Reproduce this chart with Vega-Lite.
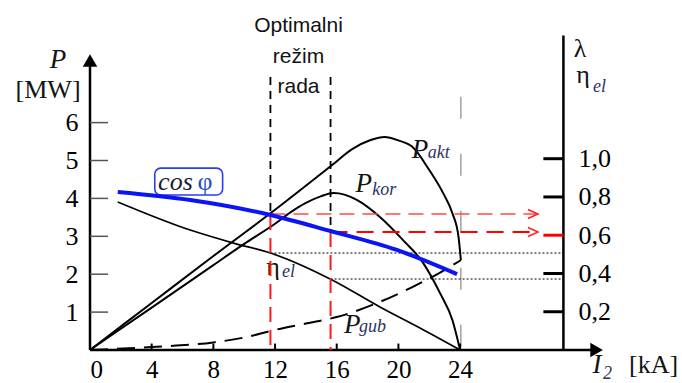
{
  "$schema": "https://vega.github.io/schema/vega-lite/v6.json",
  "width": 592,
  "height": 350,
  "autosize": {"type": "none"},
  "padding": {"left": 90, "top": 0, "right": 0, "bottom": 33},
  "background": "white",
  "config": {
    "view": {"stroke": null},
    "axis": {"grid": false, "labelFont": "Liberation Serif", "labelFontSize": 26, "labelColor": "#000", "domain": false},
    "style": {"guide-label": {"font": "Liberation Serif", "fontSize": 26, "fill": "#000"}}
  },
  "datasets": {
    "pc": [
      {"s": "akt", "I": 0, "P": 0}, {"s": "akt", "I": 4, "P": 1.24}, {"s": "akt", "I": 8, "P": 2.48}, {"s": "akt", "I": 12, "P": 3.7}, {"s": "akt", "I": 15.7, "P": 4.88}, {"s": "akt", "I": 17, "P": 5.3}, {"s": "akt", "I": 18.2, "P": 5.54}, {"s": "akt", "I": 19.1, "P": 5.62}, {"s": "akt", "I": 20, "P": 5.53}, {"s": "akt", "I": 20.9, "P": 5.36}, {"s": "akt", "I": 22, "P": 4.75}, {"s": "akt", "I": 22.9, "P": 4.14}, {"s": "akt", "I": 23.5, "P": 3.61}, {"s": "akt", "I": 23.9, "P": 2.98}, {"s": "akt", "I": 24.05, "P": 2.37},
      {"s": "kor", "I": 0, "P": 0}, {"s": "kor", "I": 4, "P": 1.12}, {"s": "kor", "I": 8, "P": 2.24}, {"s": "kor", "I": 10, "P": 2.8}, {"s": "kor", "I": 12, "P": 3.33}, {"s": "kor", "I": 13, "P": 3.63}, {"s": "kor", "I": 14, "P": 3.88}, {"s": "kor", "I": 15, "P": 4.06}, {"s": "kor", "I": 15.8, "P": 4.14}, {"s": "kor", "I": 16.5, "P": 4.1}, {"s": "kor", "I": 17.3, "P": 3.96}, {"s": "kor", "I": 18.8, "P": 3.51}, {"s": "kor", "I": 20.3, "P": 2.9}, {"s": "kor", "I": 21.6, "P": 2.3}, {"s": "kor", "I": 22.7, "P": 1.5}, {"s": "kor", "I": 23.5, "P": 0.79}, {"s": "kor", "I": 24, "P": 0},
      {"s": "gub", "I": 0, "P": 0}, {"s": "gub", "I": 4, "P": 0.08}, {"s": "gub", "I": 8, "P": 0.2}, {"s": "gub", "I": 10, "P": 0.33}, {"s": "gub", "I": 12, "P": 0.53}, {"s": "gub", "I": 14, "P": 0.7}, {"s": "gub", "I": 16, "P": 0.87}, {"s": "gub", "I": 18.8, "P": 1.27}, {"s": "gub", "I": 20.9, "P": 1.66}, {"s": "gub", "I": 22.2, "P": 1.93}, {"s": "gub", "I": 24.05, "P": 2.37}
    ],
    "lc": [
      {"s": "cos", "I": 1.8, "L": 0.826}, {"s": "cos", "I": 6.5, "L": 0.784}, {"s": "cos", "I": 11.7, "L": 0.706}, {"s": "cos", "I": 15.6, "L": 0.622}, {"s": "cos", "I": 19.9, "L": 0.523}, {"s": "cos", "I": 23.8, "L": 0.397},
      {"s": "eta", "I": 1.8, "L": 0.774}, {"s": "eta", "I": 6.5, "L": 0.627}, {"s": "eta", "I": 9.3, "L": 0.559}, {"s": "eta", "I": 11.7, "L": 0.507}, {"s": "eta", "I": 15.7, "L": 0.366}, {"s": "eta", "I": 18.8, "L": 0.225}, {"s": "eta", "I": 21.4, "L": 0.115}, {"s": "eta", "I": 24, "L": 0}
    ],
    "lr": [
      {"k": "blackdash", "x1": 11.7, "x2": 11.7, "y1": 1.427, "y2": 0.706},
      {"k": "blackdash", "x1": 15.6, "x2": 15.6, "y1": 1.427, "y2": 0.617},
      {"k": "redv", "x1": 11.7, "x2": 11.7, "y1": 0.706, "y2": 0},
      {"k": "redv", "x1": 15.6, "x2": 15.6, "y1": 0.617, "y2": 0},
      {"k": "red1", "x1": 11.7, "x2": 29.05, "y1": 0.711, "y2": 0.711},
      {"k": "red2", "x1": 15.6, "x2": 29.05, "y1": 0.617, "y2": 0.617},
      {"k": "dot", "x1": 11.7, "x2": 30.7, "y1": 0.507, "y2": 0.507},
      {"k": "dot", "x1": 15.6, "x2": 30.7, "y1": 0.371, "y2": 0.371}
    ],
    "pr": [
      {"k": "axis", "x1": 0, "x2": 32.6, "y1": 0, "y2": 0},
      {"k": "axis", "x1": 0, "x2": 0, "y1": 0, "y2": 7.5},
      {"k": "axis", "x1": 30.7, "x2": 30.7, "y1": 0, "y2": 8.3},
      {"k": "gray", "x1": 24.05, "x2": 24.05, "y1": 6.68, "y2": 0}
    ],
    "ptick": [{"v": 1}, {"v": 2}, {"v": 3}, {"v": 4}, {"v": 5}, {"v": 6}],
    "xtick": [{"v": 4}, {"v": 8}, {"v": 12}, {"v": 16}, {"v": 20}, {"v": 24}],
    "ltick": [{"v": 0.2}, {"v": 0.4}, {"v": 0.6}, {"v": 0.8}, {"v": 1.0}],
    "arr": [
      {"k": "up", "x": 0, "y": 7.64},
      {"k": "right", "x": 32.85, "y": 0}
    ],
    "chev": [
      {"x": 29.05, "L": 0.711},
      {"x": 29.05, "L": 0.617}
    ],
    "box": [{"x1": 4.2, "x2": 8.6, "y1": 4.09, "y2": 4.8}],
    "txt": [
      {"g": "A", "t": "P", "x": 21.4, "y": 5.07},
      {"g": "A", "t": "P", "x": 17.75, "y": 4.17},
      {"g": "A", "t": "P", "x": 17.0, "y": 0.45},
      {"g": "A", "t": "P", "x": -2.08, "y": 7.45},
      {"g": "A", "t": "I", "x": 32.88, "y": -0.61},
      {"g": "B", "t": "akt", "x": 21.9, "y": 5.07},
      {"g": "B", "t": "kor", "x": 18.3, "y": 4.09},
      {"g": "B", "t": "gub", "x": 17.45, "y": 0.47},
      {"g": "B", "t": "el", "x": 12.45, "y": 1.93},
      {"g": "B", "t": "el", "x": 32.62, "y": 6.81},
      {"g": "B", "t": "2", "x": 33.27, "y": -0.76},
      {"g": "C", "t": "[MW]", "x": -2.72, "y": 6.66},
      {"g": "C", "t": "[kA]", "x": 36.55, "y": -0.61},
      {"g": "C", "t": "λ", "x": 31.78, "y": 7.74},
      {"g": "C", "t": "η", "x": 31.97, "y": 7.04},
      {"g": "C", "t": "η", "x": 11.87, "y": 1.98},
      {"g": "F", "t": "φ", "x": 7.46, "y": 4.22},
      {"g": "D", "t": "cos", "x": 5.54, "y": 4.22},
      {"g": "E", "t": "Optimalni", "x": 13.52, "y": 8.39},
      {"g": "E", "t": "režim", "x": 13.52, "y": 7.57},
      {"g": "E", "t": "rada", "x": 13.52, "y": 6.78}
    ]
  },
  "layer": [
    {
      "layer": [
        {
          "data": {"name": "pr"},
          "transform": [{"filter": "datum.k == 'gray'"}],
          "mark": {"type": "rule", "color": "#8a8a8a", "strokeWidth": 1.2, "strokeDash": [22, 35]},
          "encoding": {
            "x": {"field": "x1", "type": "quantitative", "scale": {"domain": [0, 38.39], "nice": false, "zero": false}, "axis": {"orient": "bottom", "values": [0, 4, 8, 12, 16, 20, 24], "format": "d", "ticks": false, "tickSize": 0, "labelPadding": 27, "labelBaseline": "alphabetic", "labelFont": "Liberation Serif", "labelFontSize": 25, "labelColor": "#000", "title": null, "domain": false, "grid": false}},
            "x2": {"field": "x2"},
            "y": {"field": "y1", "type": "quantitative", "scale": {"domain": [0, 9.235], "nice": false}, "axis": {"orient": "left", "values": [1, 2, 3, 4, 5, 6], "format": "d", "ticks": false, "tickSize": 0, "labelPadding": 12, "labelFont": "Liberation Serif", "labelFontSize": 26, "labelColor": "#000", "title": null, "domain": false, "grid": false}},
            "y2": {"field": "y2"}
          }
        },
        {
          "data": {"name": "pc"},
          "transform": [{"filter": "datum.s == 'akt'"}],
          "mark": {"type": "line", "color": "#000", "strokeWidth": 2, "interpolate": "monotone"},
          "encoding": {
            "x": {"field": "I", "type": "quantitative", "scale": {"domain": [0, 38.39], "nice": false, "zero": false}, "axis": {"orient": "bottom", "values": [0, 4, 8, 12, 16, 20, 24], "format": "d", "ticks": false, "tickSize": 0, "labelPadding": 27, "labelBaseline": "alphabetic", "labelFont": "Liberation Serif", "labelFontSize": 25, "labelColor": "#000", "title": null, "domain": false, "grid": false}},
            "y": {"field": "P", "type": "quantitative", "scale": {"domain": [0, 9.235], "nice": false}, "axis": {"orient": "left", "values": [1, 2, 3, 4, 5, 6], "format": "d", "ticks": false, "tickSize": 0, "labelPadding": 12, "labelFont": "Liberation Serif", "labelFontSize": 26, "labelColor": "#000", "title": null, "domain": false, "grid": false}}
          }
        },
        {
          "data": {"name": "pc"},
          "transform": [{"filter": "datum.s == 'kor'"}],
          "mark": {"type": "line", "color": "#000", "strokeWidth": 2, "interpolate": "monotone"},
          "encoding": {
            "x": {"field": "I", "type": "quantitative", "scale": {"domain": [0, 38.39], "nice": false, "zero": false}, "axis": {"orient": "bottom", "values": [0, 4, 8, 12, 16, 20, 24], "format": "d", "ticks": false, "tickSize": 0, "labelPadding": 27, "labelBaseline": "alphabetic", "labelFont": "Liberation Serif", "labelFontSize": 25, "labelColor": "#000", "title": null, "domain": false, "grid": false}},
            "y": {"field": "P", "type": "quantitative", "scale": {"domain": [0, 9.235], "nice": false}, "axis": {"orient": "left", "values": [1, 2, 3, 4, 5, 6], "format": "d", "ticks": false, "tickSize": 0, "labelPadding": 12, "labelFont": "Liberation Serif", "labelFontSize": 26, "labelColor": "#000", "title": null, "domain": false, "grid": false}}
          }
        },
        {
          "data": {"name": "pc"},
          "transform": [{"filter": "datum.s == 'gub'"}],
          "mark": {"type": "line", "color": "#000", "strokeWidth": 2, "strokeDash": [18, 9], "interpolate": "monotone"},
          "encoding": {
            "x": {"field": "I", "type": "quantitative", "scale": {"domain": [0, 38.39], "nice": false, "zero": false}, "axis": {"orient": "bottom", "values": [0, 4, 8, 12, 16, 20, 24], "format": "d", "ticks": false, "tickSize": 0, "labelPadding": 27, "labelBaseline": "alphabetic", "labelFont": "Liberation Serif", "labelFontSize": 25, "labelColor": "#000", "title": null, "domain": false, "grid": false}},
            "y": {"field": "P", "type": "quantitative", "scale": {"domain": [0, 9.235], "nice": false}, "axis": {"orient": "left", "values": [1, 2, 3, 4, 5, 6], "format": "d", "ticks": false, "tickSize": 0, "labelPadding": 12, "labelFont": "Liberation Serif", "labelFontSize": 26, "labelColor": "#000", "title": null, "domain": false, "grid": false}}
          }
        },
        {
          "data": {"name": "pr"},
          "transform": [{"filter": "datum.k == 'axis'"}],
          "mark": {"type": "rule", "color": "#000", "strokeWidth": 2.5},
          "encoding": {
            "x": {"field": "x1", "type": "quantitative", "scale": {"domain": [0, 38.39], "nice": false, "zero": false}, "axis": {"orient": "bottom", "values": [0, 4, 8, 12, 16, 20, 24], "format": "d", "ticks": false, "tickSize": 0, "labelPadding": 27, "labelBaseline": "alphabetic", "labelFont": "Liberation Serif", "labelFontSize": 25, "labelColor": "#000", "title": null, "domain": false, "grid": false}},
            "x2": {"field": "x2"},
            "y": {"field": "y1", "type": "quantitative", "scale": {"domain": [0, 9.235], "nice": false}, "axis": {"orient": "left", "values": [1, 2, 3, 4, 5, 6], "format": "d", "ticks": false, "tickSize": 0, "labelPadding": 12, "labelFont": "Liberation Serif", "labelFontSize": 26, "labelColor": "#000", "title": null, "domain": false, "grid": false}},
            "y2": {"field": "y2"}
          }
        },
        {
          "data": {"name": "ptick"},
          "mark": {"type": "rule", "color": "#555", "strokeWidth": 1.5},
          "encoding": {
            "x": {"datum": 0, "type": "quantitative", "scale": {"domain": [0, 38.39], "nice": false, "zero": false}, "axis": {"orient": "bottom", "values": [0, 4, 8, 12, 16, 20, 24], "format": "d", "ticks": false, "tickSize": 0, "labelPadding": 27, "labelBaseline": "alphabetic", "labelFont": "Liberation Serif", "labelFontSize": 25, "labelColor": "#000", "title": null, "domain": false, "grid": false}},
            "x2": {"datum": 1.17},
            "y": {"field": "v", "type": "quantitative", "scale": {"domain": [0, 9.235], "nice": false}, "axis": {"orient": "left", "values": [1, 2, 3, 4, 5, 6], "format": "d", "ticks": false, "tickSize": 0, "labelPadding": 12, "labelFont": "Liberation Serif", "labelFontSize": 26, "labelColor": "#000", "title": null, "domain": false, "grid": false}}
          }
        },
        {
          "data": {"name": "xtick"},
          "mark": {"type": "rule", "color": "#000", "strokeWidth": 2},
          "encoding": {
            "x": {"field": "v", "type": "quantitative", "scale": {"domain": [0, 38.39], "nice": false, "zero": false}, "axis": {"orient": "bottom", "values": [0, 4, 8, 12, 16, 20, 24], "format": "d", "ticks": false, "tickSize": 0, "labelPadding": 27, "labelBaseline": "alphabetic", "labelFont": "Liberation Serif", "labelFontSize": 25, "labelColor": "#000", "title": null, "domain": false, "grid": false}},
            "y": {"datum": 0, "type": "quantitative", "scale": {"domain": [0, 9.235], "nice": false}, "axis": {"orient": "left", "values": [1, 2, 3, 4, 5, 6], "format": "d", "ticks": false, "tickSize": 0, "labelPadding": 12, "labelFont": "Liberation Serif", "labelFontSize": 26, "labelColor": "#000", "title": null, "domain": false, "grid": false}},
            "y2": {"datum": 0.17}
          }
        },
        {
          "data": {"name": "arr"},
          "mark": {"type": "point", "filled": true, "color": "#000", "size": 210, "opacity": 1},
          "encoding": {
            "x": {"field": "x", "type": "quantitative", "scale": {"domain": [0, 38.39], "nice": false, "zero": false}, "axis": {"orient": "bottom", "values": [0, 4, 8, 12, 16, 20, 24], "format": "d", "ticks": false, "tickSize": 0, "labelPadding": 27, "labelBaseline": "alphabetic", "labelFont": "Liberation Serif", "labelFontSize": 25, "labelColor": "#000", "title": null, "domain": false, "grid": false}},
            "y": {"field": "y", "type": "quantitative", "scale": {"domain": [0, 9.235], "nice": false}, "axis": {"orient": "left", "values": [1, 2, 3, 4, 5, 6], "format": "d", "ticks": false, "tickSize": 0, "labelPadding": 12, "labelFont": "Liberation Serif", "labelFontSize": 26, "labelColor": "#000", "title": null, "domain": false, "grid": false}},
            "shape": {"field": "k", "type": "nominal", "scale": {"domain": ["up", "right"], "range": ["triangle-up", "triangle-right"]}, "legend": null}
          }
        },
        {
          "data": {"name": "box"},
          "mark": {"type": "rect", "fill": "white", "stroke": "#2a3cf0", "strokeWidth": 1.6, "cornerRadius": 6},
          "encoding": {
            "x": {"field": "x1", "type": "quantitative", "scale": {"domain": [0, 38.39], "nice": false, "zero": false}, "axis": {"orient": "bottom", "values": [0, 4, 8, 12, 16, 20, 24], "format": "d", "ticks": false, "tickSize": 0, "labelPadding": 27, "labelBaseline": "alphabetic", "labelFont": "Liberation Serif", "labelFontSize": 25, "labelColor": "#000", "title": null, "domain": false, "grid": false}},
            "x2": {"field": "x2"},
            "y": {"field": "y1", "type": "quantitative", "scale": {"domain": [0, 9.235], "nice": false}, "axis": {"orient": "left", "values": [1, 2, 3, 4, 5, 6], "format": "d", "ticks": false, "tickSize": 0, "labelPadding": 12, "labelFont": "Liberation Serif", "labelFontSize": 26, "labelColor": "#000", "title": null, "domain": false, "grid": false}},
            "y2": {"field": "y2"}
          }
        },
        {
          "data": {"name": "txt"},
          "transform": [{"filter": "datum.g == 'A'"}],
          "mark": {"type": "text", "font": "Liberation Serif", "fontStyle": "italic", "fontSize": 27, "align": "center", "baseline": "alphabetic", "color": "#141414"},
          "encoding": {
            "x": {"field": "x", "type": "quantitative", "scale": {"domain": [0, 38.39], "nice": false, "zero": false}, "axis": {"orient": "bottom", "values": [0, 4, 8, 12, 16, 20, 24], "format": "d", "ticks": false, "tickSize": 0, "labelPadding": 27, "labelBaseline": "alphabetic", "labelFont": "Liberation Serif", "labelFontSize": 25, "labelColor": "#000", "title": null, "domain": false, "grid": false}},
            "y": {"field": "y", "type": "quantitative", "scale": {"domain": [0, 9.235], "nice": false}, "axis": {"orient": "left", "values": [1, 2, 3, 4, 5, 6], "format": "d", "ticks": false, "tickSize": 0, "labelPadding": 12, "labelFont": "Liberation Serif", "labelFontSize": 26, "labelColor": "#000", "title": null, "domain": false, "grid": false}},
            "text": {"field": "t"}
          }
        },
        {
          "data": {"name": "txt"},
          "transform": [{"filter": "datum.g == 'B'"}],
          "mark": {"type": "text", "font": "Liberation Serif", "fontStyle": "italic", "fontSize": 18, "align": "left", "baseline": "alphabetic", "color": "#2a3560"},
          "encoding": {
            "x": {"field": "x", "type": "quantitative", "scale": {"domain": [0, 38.39], "nice": false, "zero": false}, "axis": {"orient": "bottom", "values": [0, 4, 8, 12, 16, 20, 24], "format": "d", "ticks": false, "tickSize": 0, "labelPadding": 27, "labelBaseline": "alphabetic", "labelFont": "Liberation Serif", "labelFontSize": 25, "labelColor": "#000", "title": null, "domain": false, "grid": false}},
            "y": {"field": "y", "type": "quantitative", "scale": {"domain": [0, 9.235], "nice": false}, "axis": {"orient": "left", "values": [1, 2, 3, 4, 5, 6], "format": "d", "ticks": false, "tickSize": 0, "labelPadding": 12, "labelFont": "Liberation Serif", "labelFontSize": 26, "labelColor": "#000", "title": null, "domain": false, "grid": false}},
            "text": {"field": "t"}
          }
        },
        {
          "data": {"name": "txt"},
          "transform": [{"filter": "datum.g == 'C'"}],
          "mark": {"type": "text", "font": "Liberation Serif", "fontSize": 26, "align": "center", "baseline": "alphabetic", "color": "#141414"},
          "encoding": {
            "x": {"field": "x", "type": "quantitative", "scale": {"domain": [0, 38.39], "nice": false, "zero": false}, "axis": {"orient": "bottom", "values": [0, 4, 8, 12, 16, 20, 24], "format": "d", "ticks": false, "tickSize": 0, "labelPadding": 27, "labelBaseline": "alphabetic", "labelFont": "Liberation Serif", "labelFontSize": 25, "labelColor": "#000", "title": null, "domain": false, "grid": false}},
            "y": {"field": "y", "type": "quantitative", "scale": {"domain": [0, 9.235], "nice": false}, "axis": {"orient": "left", "values": [1, 2, 3, 4, 5, 6], "format": "d", "ticks": false, "tickSize": 0, "labelPadding": 12, "labelFont": "Liberation Serif", "labelFontSize": 26, "labelColor": "#000", "title": null, "domain": false, "grid": false}},
            "text": {"field": "t"}
          }
        },
        {
          "data": {"name": "txt"},
          "transform": [{"filter": "datum.g == 'F'"}],
          "mark": {"type": "text", "font": "Liberation Serif", "fontSize": 26, "align": "center", "baseline": "alphabetic", "color": "#1f4fc8"},
          "encoding": {
            "x": {"field": "x", "type": "quantitative", "scale": {"domain": [0, 38.39], "nice": false, "zero": false}, "axis": {"orient": "bottom", "values": [0, 4, 8, 12, 16, 20, 24], "format": "d", "ticks": false, "tickSize": 0, "labelPadding": 27, "labelBaseline": "alphabetic", "labelFont": "Liberation Serif", "labelFontSize": 25, "labelColor": "#000", "title": null, "domain": false, "grid": false}},
            "y": {"field": "y", "type": "quantitative", "scale": {"domain": [0, 9.235], "nice": false}, "axis": {"orient": "left", "values": [1, 2, 3, 4, 5, 6], "format": "d", "ticks": false, "tickSize": 0, "labelPadding": 12, "labelFont": "Liberation Serif", "labelFontSize": 26, "labelColor": "#000", "title": null, "domain": false, "grid": false}},
            "text": {"field": "t"}
          }
        },
        {
          "data": {"name": "txt"},
          "transform": [{"filter": "datum.g == 'D'"}],
          "mark": {"type": "text", "font": "Liberation Serif", "fontStyle": "italic", "fontSize": 26, "align": "center", "baseline": "alphabetic", "color": "#1c1c40"},
          "encoding": {
            "x": {"field": "x", "type": "quantitative", "scale": {"domain": [0, 38.39], "nice": false, "zero": false}, "axis": {"orient": "bottom", "values": [0, 4, 8, 12, 16, 20, 24], "format": "d", "ticks": false, "tickSize": 0, "labelPadding": 27, "labelBaseline": "alphabetic", "labelFont": "Liberation Serif", "labelFontSize": 25, "labelColor": "#000", "title": null, "domain": false, "grid": false}},
            "y": {"field": "y", "type": "quantitative", "scale": {"domain": [0, 9.235], "nice": false}, "axis": {"orient": "left", "values": [1, 2, 3, 4, 5, 6], "format": "d", "ticks": false, "tickSize": 0, "labelPadding": 12, "labelFont": "Liberation Serif", "labelFontSize": 26, "labelColor": "#000", "title": null, "domain": false, "grid": false}},
            "text": {"field": "t"}
          }
        },
        {
          "data": {"name": "txt"},
          "transform": [{"filter": "datum.g == 'E'"}],
          "mark": {"type": "text", "font": "Liberation Sans", "fontSize": 21, "align": "center", "baseline": "alphabetic", "color": "#111"},
          "encoding": {
            "x": {"field": "x", "type": "quantitative", "scale": {"domain": [0, 38.39], "nice": false, "zero": false}, "axis": {"orient": "bottom", "values": [0, 4, 8, 12, 16, 20, 24], "format": "d", "ticks": false, "tickSize": 0, "labelPadding": 27, "labelBaseline": "alphabetic", "labelFont": "Liberation Serif", "labelFontSize": 25, "labelColor": "#000", "title": null, "domain": false, "grid": false}},
            "y": {"field": "y", "type": "quantitative", "scale": {"domain": [0, 9.235], "nice": false}, "axis": {"orient": "left", "values": [1, 2, 3, 4, 5, 6], "format": "d", "ticks": false, "tickSize": 0, "labelPadding": 12, "labelFont": "Liberation Serif", "labelFontSize": 26, "labelColor": "#000", "title": null, "domain": false, "grid": false}},
            "text": {"field": "t"}
          }
        }
      ]
    },
    {
      "layer": [
        {
          "data": {"name": "lc"},
          "transform": [{"filter": "datum.s == 'eta'"}],
          "mark": {"type": "line", "color": "#000", "strokeWidth": 1.7, "interpolate": "monotone"},
          "encoding": {
            "x": {"field": "I", "type": "quantitative", "scale": {"domain": [0, 38.39], "nice": false, "zero": false}, "axis": {"orient": "bottom", "values": [0, 4, 8, 12, 16, 20, 24], "format": "d", "ticks": false, "tickSize": 0, "labelPadding": 27, "labelBaseline": "alphabetic", "labelFont": "Liberation Serif", "labelFontSize": 25, "labelColor": "#000", "title": null, "domain": false, "grid": false}},
            "y": {"field": "L", "type": "quantitative", "scale": {"domain": [0, 1.8296], "nice": false}, "axis": {"orient": "right", "offset": -119, "values": [0.2, 0.4, 0.6, 0.8, 1.0], "labelExpr": "replace(format(datum.value, '.1f'), '.', ',')", "ticks": false, "tickSize": 0, "labelPadding": 15, "labelFont": "Liberation Serif", "labelFontSize": 26, "labelColor": "#000", "title": null, "domain": false, "grid": false}}
          }
        },
        {
          "data": {"name": "ltick"},
          "mark": {"type": "rule", "strokeWidth": 3},
          "encoding": {
            "x": {"datum": 29.4, "type": "quantitative", "scale": {"domain": [0, 38.39], "nice": false, "zero": false}, "axis": {"orient": "bottom", "values": [0, 4, 8, 12, 16, 20, 24], "format": "d", "ticks": false, "tickSize": 0, "labelPadding": 27, "labelBaseline": "alphabetic", "labelFont": "Liberation Serif", "labelFontSize": 25, "labelColor": "#000", "title": null, "domain": false, "grid": false}},
            "x2": {"datum": 30.7},
            "y": {"field": "v", "type": "quantitative", "scale": {"domain": [0, 1.8296], "nice": false}, "axis": {"orient": "right", "offset": -119, "values": [0.2, 0.4, 0.6, 0.8, 1.0], "labelExpr": "replace(format(datum.value, '.1f'), '.', ',')", "ticks": false, "tickSize": 0, "labelPadding": 15, "labelFont": "Liberation Serif", "labelFontSize": 26, "labelColor": "#000", "title": null, "domain": false, "grid": false}},
            "color": {"condition": {"test": "datum.v == 0.6", "value": "#ff0000"}, "value": "#000"}
          }
        },
        {
          "data": {"name": "lr"},
          "transform": [{"filter": "datum.k == 'dot'"}],
          "mark": {"type": "rule", "color": "#000", "strokeWidth": 1, "strokeDash": [2, 2]},
          "encoding": {
            "x": {"field": "x1", "type": "quantitative", "scale": {"domain": [0, 38.39], "nice": false, "zero": false}, "axis": {"orient": "bottom", "values": [0, 4, 8, 12, 16, 20, 24], "format": "d", "ticks": false, "tickSize": 0, "labelPadding": 27, "labelBaseline": "alphabetic", "labelFont": "Liberation Serif", "labelFontSize": 25, "labelColor": "#000", "title": null, "domain": false, "grid": false}},
            "x2": {"field": "x2"},
            "y": {"field": "y1", "type": "quantitative", "scale": {"domain": [0, 1.8296], "nice": false}, "axis": {"orient": "right", "offset": -119, "values": [0.2, 0.4, 0.6, 0.8, 1.0], "labelExpr": "replace(format(datum.value, '.1f'), '.', ',')", "ticks": false, "tickSize": 0, "labelPadding": 15, "labelFont": "Liberation Serif", "labelFontSize": 26, "labelColor": "#000", "title": null, "domain": false, "grid": false}},
            "y2": {"field": "y2"}
          }
        },
        {
          "data": {"name": "lr"},
          "transform": [{"filter": "datum.k == 'blackdash'"}],
          "mark": {"type": "rule", "color": "#000", "strokeWidth": 1.8, "strokeDash": [8, 6]},
          "encoding": {
            "x": {"field": "x1", "type": "quantitative", "scale": {"domain": [0, 38.39], "nice": false, "zero": false}, "axis": {"orient": "bottom", "values": [0, 4, 8, 12, 16, 20, 24], "format": "d", "ticks": false, "tickSize": 0, "labelPadding": 27, "labelBaseline": "alphabetic", "labelFont": "Liberation Serif", "labelFontSize": 25, "labelColor": "#000", "title": null, "domain": false, "grid": false}},
            "x2": {"field": "x2"},
            "y": {"field": "y1", "type": "quantitative", "scale": {"domain": [0, 1.8296], "nice": false}, "axis": {"orient": "right", "offset": -119, "values": [0.2, 0.4, 0.6, 0.8, 1.0], "labelExpr": "replace(format(datum.value, '.1f'), '.', ',')", "ticks": false, "tickSize": 0, "labelPadding": 15, "labelFont": "Liberation Serif", "labelFontSize": 26, "labelColor": "#000", "title": null, "domain": false, "grid": false}},
            "y2": {"field": "y2"}
          }
        },
        {
          "data": {"name": "lr"},
          "transform": [{"filter": "datum.k == 'redv'"}],
          "mark": {"type": "rule", "color": "#ff1a1a", "strokeWidth": 2, "strokeDash": [15, 8]},
          "encoding": {
            "x": {"field": "x1", "type": "quantitative", "scale": {"domain": [0, 38.39], "nice": false, "zero": false}, "axis": {"orient": "bottom", "values": [0, 4, 8, 12, 16, 20, 24], "format": "d", "ticks": false, "tickSize": 0, "labelPadding": 27, "labelBaseline": "alphabetic", "labelFont": "Liberation Serif", "labelFontSize": 25, "labelColor": "#000", "title": null, "domain": false, "grid": false}},
            "x2": {"field": "x2"},
            "y": {"field": "y1", "type": "quantitative", "scale": {"domain": [0, 1.8296], "nice": false}, "axis": {"orient": "right", "offset": -119, "values": [0.2, 0.4, 0.6, 0.8, 1.0], "labelExpr": "replace(format(datum.value, '.1f'), '.', ',')", "ticks": false, "tickSize": 0, "labelPadding": 15, "labelFont": "Liberation Serif", "labelFontSize": 26, "labelColor": "#000", "title": null, "domain": false, "grid": false}},
            "y2": {"field": "y2"}
          }
        },
        {
          "data": {"name": "lr"},
          "transform": [{"filter": "datum.k == 'red1'"}],
          "mark": {"type": "rule", "color": "#ff4a4a", "strokeWidth": 1.3, "strokeDash": [15, 8]},
          "encoding": {
            "x": {"field": "x1", "type": "quantitative", "scale": {"domain": [0, 38.39], "nice": false, "zero": false}, "axis": {"orient": "bottom", "values": [0, 4, 8, 12, 16, 20, 24], "format": "d", "ticks": false, "tickSize": 0, "labelPadding": 27, "labelBaseline": "alphabetic", "labelFont": "Liberation Serif", "labelFontSize": 25, "labelColor": "#000", "title": null, "domain": false, "grid": false}},
            "x2": {"field": "x2"},
            "y": {"field": "y1", "type": "quantitative", "scale": {"domain": [0, 1.8296], "nice": false}, "axis": {"orient": "right", "offset": -119, "values": [0.2, 0.4, 0.6, 0.8, 1.0], "labelExpr": "replace(format(datum.value, '.1f'), '.', ',')", "ticks": false, "tickSize": 0, "labelPadding": 15, "labelFont": "Liberation Serif", "labelFontSize": 26, "labelColor": "#000", "title": null, "domain": false, "grid": false}},
            "y2": {"field": "y2"}
          }
        },
        {
          "data": {"name": "lr"},
          "transform": [{"filter": "datum.k == 'red2'"}],
          "mark": {"type": "rule", "color": "#ff0000", "strokeWidth": 2, "strokeDash": [17, 9]},
          "encoding": {
            "x": {"field": "x1", "type": "quantitative", "scale": {"domain": [0, 38.39], "nice": false, "zero": false}, "axis": {"orient": "bottom", "values": [0, 4, 8, 12, 16, 20, 24], "format": "d", "ticks": false, "tickSize": 0, "labelPadding": 27, "labelBaseline": "alphabetic", "labelFont": "Liberation Serif", "labelFontSize": 25, "labelColor": "#000", "title": null, "domain": false, "grid": false}},
            "x2": {"field": "x2"},
            "y": {"field": "y1", "type": "quantitative", "scale": {"domain": [0, 1.8296], "nice": false}, "axis": {"orient": "right", "offset": -119, "values": [0.2, 0.4, 0.6, 0.8, 1.0], "labelExpr": "replace(format(datum.value, '.1f'), '.', ',')", "ticks": false, "tickSize": 0, "labelPadding": 15, "labelFont": "Liberation Serif", "labelFontSize": 26, "labelColor": "#000", "title": null, "domain": false, "grid": false}},
            "y2": {"field": "y2"}
          }
        },
        {
          "data": {"name": "chev"},
          "mark": {"type": "point", "shape": "M-1,-0.45L0,0L-1,0.45", "filled": false, "stroke": "#ff2020", "strokeWidth": 1.5, "size": 400, "opacity": 1},
          "encoding": {
            "x": {"field": "x", "type": "quantitative", "scale": {"domain": [0, 38.39], "nice": false, "zero": false}, "axis": {"orient": "bottom", "values": [0, 4, 8, 12, 16, 20, 24], "format": "d", "ticks": false, "tickSize": 0, "labelPadding": 27, "labelBaseline": "alphabetic", "labelFont": "Liberation Serif", "labelFontSize": 25, "labelColor": "#000", "title": null, "domain": false, "grid": false}},
            "y": {"field": "L", "type": "quantitative", "scale": {"domain": [0, 1.8296], "nice": false}, "axis": {"orient": "right", "offset": -119, "values": [0.2, 0.4, 0.6, 0.8, 1.0], "labelExpr": "replace(format(datum.value, '.1f'), '.', ',')", "ticks": false, "tickSize": 0, "labelPadding": 15, "labelFont": "Liberation Serif", "labelFontSize": 26, "labelColor": "#000", "title": null, "domain": false, "grid": false}}
          }
        },
        {
          "data": {"name": "lc"},
          "transform": [{"filter": "datum.s == 'cos'"}],
          "mark": {"type": "line", "color": "#0a14f5", "strokeWidth": 4, "interpolate": "monotone"},
          "encoding": {
            "x": {"field": "I", "type": "quantitative", "scale": {"domain": [0, 38.39], "nice": false, "zero": false}, "axis": {"orient": "bottom", "values": [0, 4, 8, 12, 16, 20, 24], "format": "d", "ticks": false, "tickSize": 0, "labelPadding": 27, "labelBaseline": "alphabetic", "labelFont": "Liberation Serif", "labelFontSize": 25, "labelColor": "#000", "title": null, "domain": false, "grid": false}},
            "y": {"field": "L", "type": "quantitative", "scale": {"domain": [0, 1.8296], "nice": false}, "axis": {"orient": "right", "offset": -119, "values": [0.2, 0.4, 0.6, 0.8, 1.0], "labelExpr": "replace(format(datum.value, '.1f'), '.', ',')", "ticks": false, "tickSize": 0, "labelPadding": 15, "labelFont": "Liberation Serif", "labelFontSize": 26, "labelColor": "#000", "title": null, "domain": false, "grid": false}}
          }
        }
      ]
    }
  ],
  "resolve": {"scale": {"y": "independent"}}
}
